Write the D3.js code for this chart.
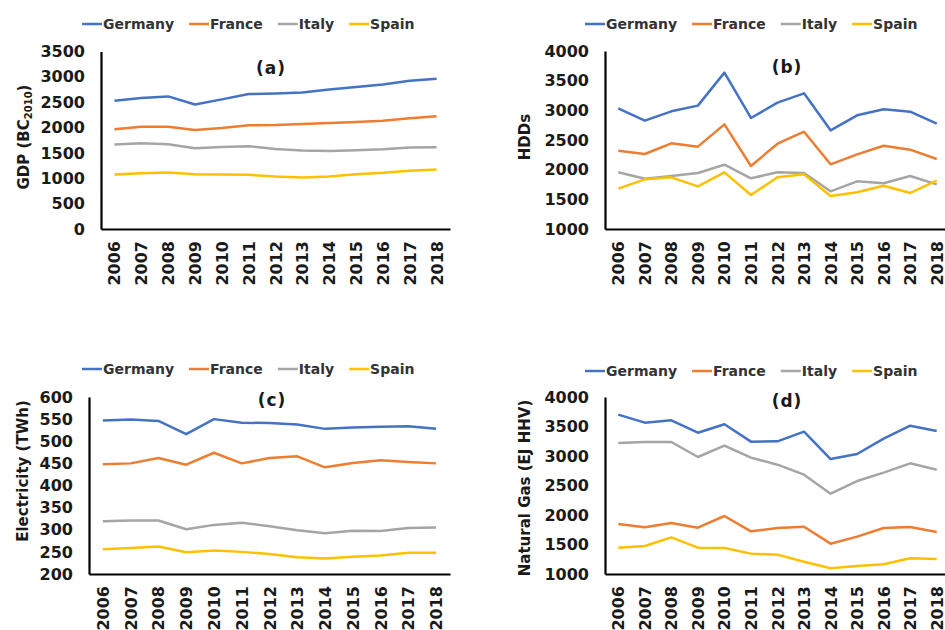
<!DOCTYPE html>
<html>
<head>
<meta charset="utf-8">
<script src="https://cdn.jsdelivr.net/npm/d3@7"></script>
<style>
  html, body { margin: 0; padding: 0; background: #fff; }
  svg { display: block; font-family: "DejaVu Sans", Verdana, sans-serif; font-weight: bold; }
</style>
</head>
<body>
<svg id="chart" width="945" height="630"></svg>
<script>
// Tick labels and series names
const years = ["2006","2007","2008","2009","2010","2011","2012","2013","2014","2015","2016","2017","2018"];
const countries = ["Germany", "France", "Italy", "Spain"];
const countryColors = ["#4472C4", "#ED7D31", "#A5A5A5", "#FFC000"];

// (a) GDP, billions of constant 2010 currency
const gdpGermany = [2530, 2585, 2615, 2455, 2556, 2660, 2674, 2690, 2752, 2798, 2851, 2923, 2962];
const gdpFrance  = [1966, 2018, 2018, 1953, 1992, 2045, 2051, 2071, 2090, 2110, 2136, 2182, 2221];
const gdpItaly   = [1664, 1691, 1671, 1592, 1619, 1632, 1579, 1547, 1540, 1553, 1573, 1605, 1612];
const gdpSpain   = [1075, 1101, 1114, 1081, 1075, 1068, 1035, 1016, 1035, 1081, 1107, 1147, 1173];

// (b) Heating degree days
const hddGermany = [3034, 2826, 2983, 3079, 3635, 2871, 3129, 3287, 2663, 2916, 3017, 2978, 2775];
const hddFrance  = [2320, 2264, 2444, 2388, 2764, 2062, 2438, 2640, 2090, 2258, 2404, 2337, 2180];
const hddItaly   = [1955, 1848, 1893, 1944, 2084, 1854, 1955, 1944, 1635, 1803, 1770, 1893, 1753];
const hddSpain   = [1680, 1837, 1871, 1719, 1955, 1573, 1871, 1921, 1556, 1618, 1730, 1607, 1815];

// (c) Electricity consumption, TWh
const elecGermany = [547, 549, 546, 516, 550, 542, 541, 538, 528, 531, 533, 534, 528];
const elecFrance  = [448, 450, 462, 447, 474, 450, 462, 466, 441, 451, 457, 453, 450];
const elecItaly   = [319, 321, 321, 301, 311, 316, 308, 299, 292, 298, 297, 304, 305];
const elecSpain   = [256, 259, 262, 249, 253, 250, 245, 238, 235, 239, 242, 248, 248];

// (d) Natural gas consumption
const gasGermany = [3701, 3565, 3605, 3395, 3537, 3243, 3249, 3412, 2949, 3034, 3294, 3514, 3424];
const gasFrance  = [1847, 1791, 1864, 1785, 1983, 1723, 1780, 1802, 1514, 1633, 1780, 1797, 1712];
const gasItaly   = [3220, 3237, 3237, 2983, 3175, 2972, 2853, 2684, 2362, 2576, 2718, 2876, 2768];
const gasSpain   = [1446, 1475, 1621, 1446, 1441, 1345, 1328, 1209, 1096, 1136, 1164, 1266, 1254];

// Y-axis ranges and tick values
const gdpTicks  = [0, 500, 1000, 1500, 2000, 2500, 3000, 3500];
const hddTicks  = [1000, 1500, 2000, 2500, 3000, 3500, 4000];
const elecTicks = [200, 250, 300, 350, 400, 450, 500, 550, 600];
const gasTicks  = [1000, 1500, 2000, 2500, 3000, 3500, 4000];

const panels = [
  { tag: "(a)", label: ["GDP (BC", "2010", ")"], ticks: gdpTicks,
    series: [gdpGermany, gdpFrance, gdpItaly, gdpSpain],
    box: { left: 101, right: 450, top: 51.5, bottom: 229 },
    legend: { x: 82, y: 24 }, title: { x: 271, y: 68 }, ylab: { x: 24, y: 137 } },
  { tag: "(b)", label: ["HDDs"], ticks: hddTicks,
    series: [hddGermany, hddFrance, hddItaly, hddSpain],
    box: { left: 605, right: 950, top: 51, bottom: 229 },
    legend: { x: 585, y: 24 }, title: { x: 787, y: 67 }, ylab: { x: 525, y: 137 } },
  { tag: "(c)", label: ["Electricity (TWh)"], ticks: elecTicks,
    series: [elecGermany, elecFrance, elecItaly, elecSpain],
    box: { left: 89, right: 450, top: 397, bottom: 574 },
    legend: { x: 82, y: 369 }, title: { x: 272, y: 400 }, ylab: { x: 23, y: 471 } },
  { tag: "(d)", label: ["Natural Gas (EJ HHV)"], ticks: gasTicks,
    series: [gasGermany, gasFrance, gasItaly, gasSpain],
    box: { left: 605, right: 950, top: 397, bottom: 574 },
    legend: { x: 585, y: 371 }, title: { x: 787, y: 401 }, ylab: { x: 525, y: 488 } }
];

const svg = d3.select("#chart");

panels.forEach(p => {
  const g = svg.append("g");
  const b = p.box;

  const x = d3.scalePoint().domain(years).range([b.left, b.right]).padding(0.5);
  const y = d3.scaleLinear().domain(d3.extent(p.ticks)).range([b.bottom, b.top]);

  // Y axis, plain integer labels
  const yAxis = g.append("g")
    .attr("transform", `translate(${b.left},0)`)
    .call(d3.axisLeft(y).tickValues(p.ticks).tickFormat(d3.format("d"))
      .tickSize(0).tickSizeOuter(0).tickPadding(16));
  yAxis.select(".domain").attr("stroke", "#000").attr("stroke-width", 2.2);
  yAxis.selectAll("text")
    .attr("font-size", 16).attr("font-family", "DejaVu Sans, sans-serif")
    .attr("font-weight", "bold").attr("fill", "#1a1a1a");

  // X axis with rotated year labels
  const xAxis = g.append("g")
    .attr("transform", `translate(0,${b.bottom})`)
    .call(d3.axisBottom(x).tickSize(0).tickSizeOuter(0).tickPadding(0));
  xAxis.select(".domain").attr("stroke", "#000").attr("stroke-width", 2.2);
  xAxis.selectAll("text")
    .attr("font-size", 16).attr("font-family", "DejaVu Sans, sans-serif")
    .attr("font-weight", "bold").attr("fill", "#1a1a1a")
    .attr("text-anchor", "end")
    .attr("dy", null).attr("y", 0)
    .attr("dominant-baseline", "central")
    .attr("transform", "translate(0,12) rotate(-90)");

  // Series lines
  const line = d3.line().x((d, i) => x(years[i])).y(d => y(d));
  p.series.forEach((vals, i) => {
    g.append("path")
      .datum(vals)
      .attr("fill", "none")
      .attr("stroke", countryColors[i])
      .attr("stroke-width", 2.5)
      .attr("stroke-linejoin", "round")
      .attr("d", line);
  });

  // Panel tag
  g.append("text")
    .attr("x", p.title.x).attr("y", p.title.y)
    .attr("text-anchor", "middle").attr("dominant-baseline", "central")
    .attr("font-size", 17).attr("letter-spacing", 1).attr("fill", "#1a1a1a")
    .text(p.tag);

  // Y-axis title (rotated)
  const yl = g.append("text")
    .attr("transform", `translate(${p.ylab.x},${p.ylab.y}) rotate(-90)`)
    .attr("text-anchor", "middle").attr("dominant-baseline", "central")
    .attr("font-size", 15).attr("fill", "#1a1a1a");
  yl.append("tspan").text(p.label[0]);
  if (p.label.length > 1) {
    yl.append("tspan").attr("font-size", 10).attr("dy", 4).text(p.label[1]);
    yl.append("tspan").attr("dy", -4).text(p.label[2]);
  }

  // Legend
  const leg = g.append("g").attr("transform", `translate(${p.legend.x},${p.legend.y})`);
  let cx = 0;
  countries.forEach((c, i) => {
    leg.append("line")
      .attr("x1", cx).attr("x2", cx + 20).attr("y1", 0).attr("y2", 0)
      .attr("stroke", countryColors[i]).attr("stroke-width", 2.5);
    const t = leg.append("text")
      .attr("x", cx + 21).attr("y", 0)
      .attr("dominant-baseline", "central")
      .attr("font-size", 14).attr("fill", "#333")
      .text(c);
    cx += 21 + t.node().getComputedTextLength() + 15;
  });
});
</script>
</body>
</html>
